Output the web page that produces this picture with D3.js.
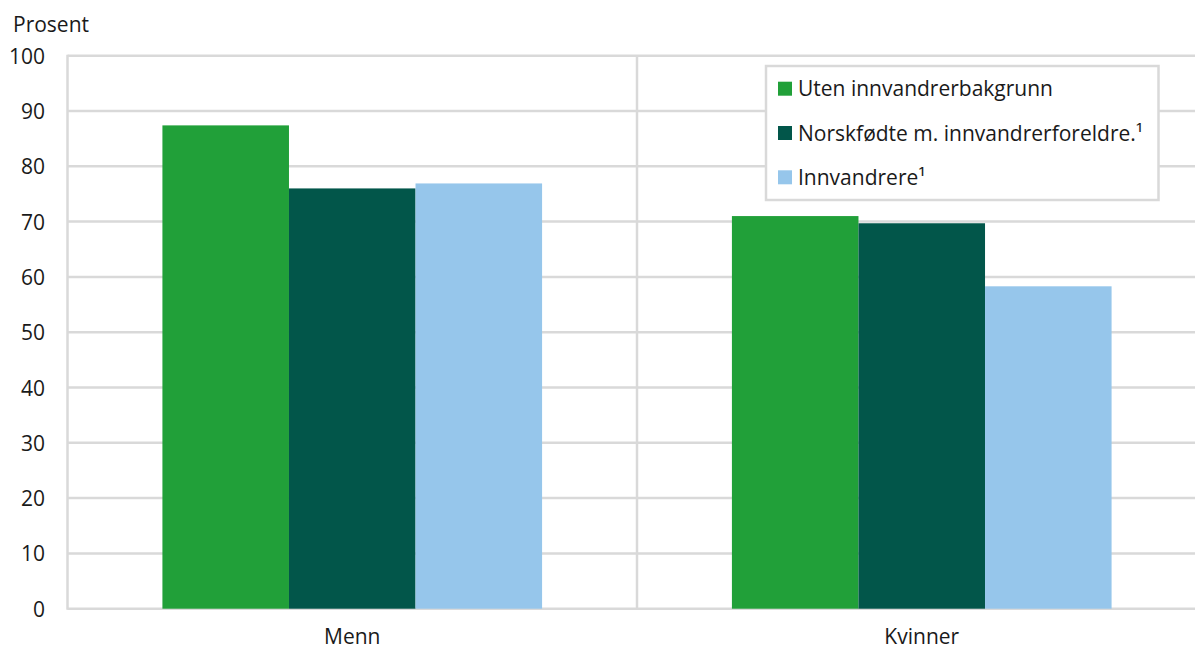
<!DOCTYPE html>
<html><head><meta charset="utf-8">
<script src="https://cdn.jsdelivr.net/npm/d3@7"></script>
<style>
html,body{margin:0;padding:0;background:#fff;overflow:hidden}
text{font-family:"Open Sans",sans-serif;fill:#1a1a1a}
</style></head><body>
<svg id="c" width="1195" height="650"></svg>
<script>
const categories = ["Menn", "Kvinner"];
const seriesNames = ["Uten innvandrerbakgrunn", "Norskfødte m. innvandrerforeldre.¹", "Innvandrere¹"];
const utenValues = [87.4, 71.0];
const norskfodteValues = [76.0, 69.7];
const innvandrereValues = [76.9, 58.3];
const yTicks = [0, 10, 20, 30, 40, 50, 60, 70, 80, 90, 100];
const colors = ["#21a039", "#02564a", "#96c6eb"];

const seriesValues = [utenValues, norskfodteValues, innvandrereValues];
const data = categories.map((c, i) => ({cat: c, vals: seriesValues.map((s, j) => ({key: seriesNames[j], v: s[i], j}))}));

const svg = d3.select("#c");
const FS = 21;
const m = {left: 67.5, right: 1206.5, top: 55.7, bottom: 608.7};
const x0 = d3.scaleBand().domain(categories).range([m.left, m.right]).padding(0);
const x1 = d3.scaleBand().domain(seriesNames).range([0, x0.bandwidth()]).paddingInner(0).paddingOuter(0.75);
const y = d3.scaleLinear().domain([0, 100]).range([m.bottom, m.top]);
const gridCol = "#d9d9d9";

// gridlines
svg.append("g").selectAll("line").data(yTicks).join("line")
  .attr("x1", m.left).attr("x2", m.right)
  .attr("y1", d => y(d)).attr("y2", d => y(d))
  .attr("stroke", gridCol).attr("stroke-width", 2.5);
// category dividers
svg.append("g").selectAll("line").data(categories.slice(1)).join("line")
  .attr("x1", d => x0(d)).attr("x2", d => x0(d))
  .attr("y1", m.top).attr("y2", m.bottom)
  .attr("stroke", gridCol).attr("stroke-width", 2.5);
// left axis line
svg.append("line").attr("x1", m.left).attr("x2", m.left).attr("y1", m.top - 1).attr("y2", m.bottom + 1)
  .attr("stroke", gridCol).attr("stroke-width", 2.5);

// bars
const g = svg.append("g").selectAll("g").data(data).join("g")
  .attr("transform", d => `translate(${x0(d.cat)},0)`);
g.selectAll("rect").data(d => d.vals).join("rect")
  .attr("x", d => x1(d.key)).attr("width", x1.bandwidth())
  .attr("y", d => y(d.v)).attr("height", d => y(0) - y(d.v))
  .attr("fill", d => colors[d.j]);

// y axis labels
const yAxis = d3.axisLeft(y).tickValues(yTicks).tickSize(0).tickPadding(0);
const ya = svg.append("g").attr("transform", `translate(45,0)`).call(yAxis);
ya.select(".domain").remove();
ya.selectAll("text").attr("font-size", FS).attr("fill", "#1a1a1a").attr("font-family", "Open Sans").attr("dy", "0.36em");

// x axis labels
const xAxis = d3.axisBottom(x0).tickSize(0).tickPadding(0);
const xa = svg.append("g").attr("transform", `translate(0,629)`).call(xAxis);
xa.select(".domain").remove();
xa.selectAll("text").attr("font-size", FS).attr("fill", "#1a1a1a").attr("font-family", "Open Sans").attr("dy", "0.71em");

svg.append("text").attr("x", 13).attr("y", 32).attr("font-size", FS).text("Prosent");

// legend
const lg = svg.append("g");
lg.append("rect").attr("x", 766).attr("y", 66).attr("width", 392.5).attr("height", 134)
  .attr("fill", "#fff").attr("stroke", gridCol).attr("stroke-width", 2.5);
const li = lg.selectAll("g.li").data(seriesNames).join("g").attr("class", "li")
  .attr("transform", (d, i) => `translate(778,${88.7 + i * 44.3})`);
li.append("rect").attr("x", 0).attr("y", -7).attr("width", 14).attr("height", 14).attr("fill", (d, i) => colors[i]);
li.append("text").attr("x", 20).attr("dy", "0.36em").attr("font-size", FS).text(d => d);
</script></body></html>
